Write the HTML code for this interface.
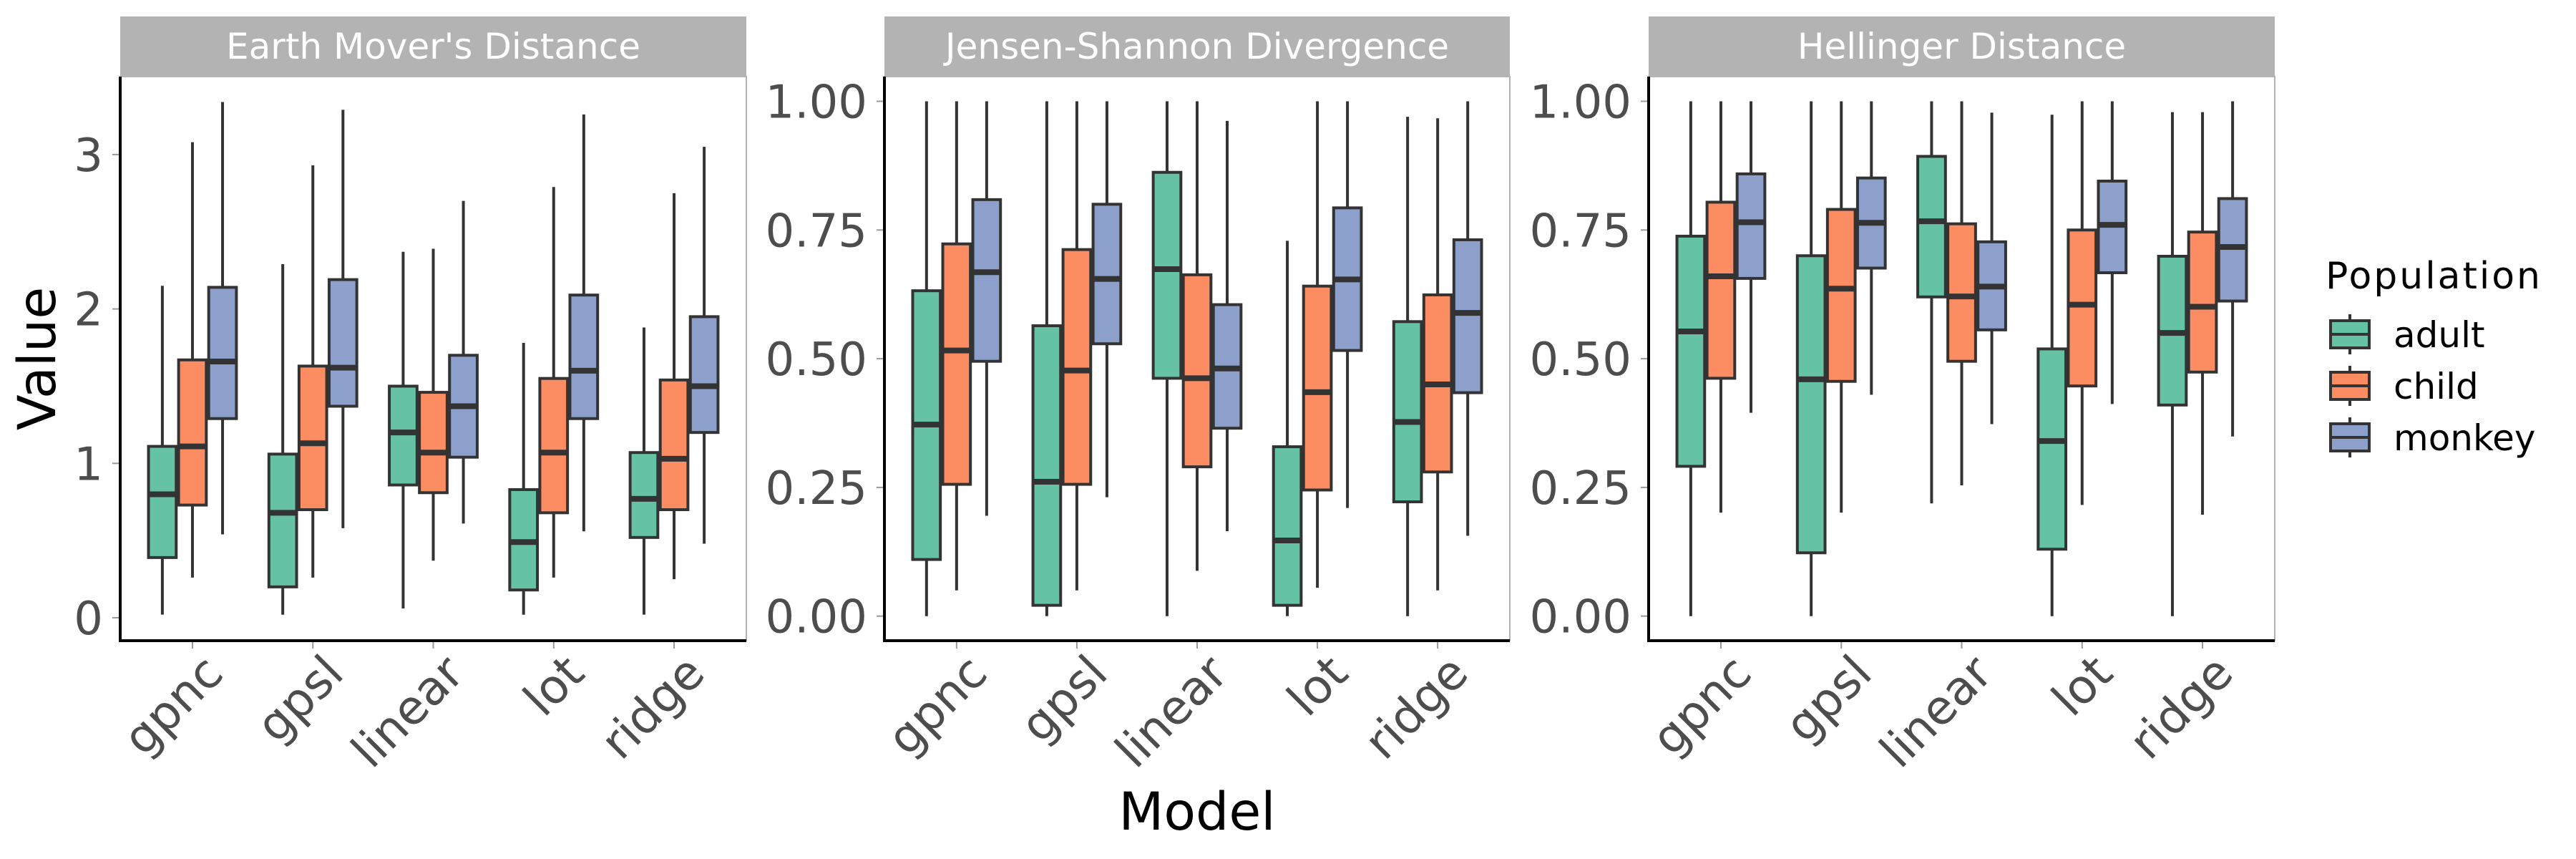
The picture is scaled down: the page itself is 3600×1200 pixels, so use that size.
<!DOCTYPE html>
<html><head><meta charset="utf-8"><style>
html,body{margin:0;padding:0;background:#fff;}
svg{display:block;font-family:"DejaVu Sans","Liberation Sans",sans-serif;}
</style></head><body>
<svg id="chart" width="3600" height="1200" viewBox="0 0 3600 1200" xmlns="http://www.w3.org/2000/svg">
<text x="1673" y="1159" font-size="73" text-anchor="middle" fill="#000">Model</text>
<text x="0" y="0" font-size="73" text-anchor="middle" fill="#000" transform="translate(77,501) rotate(-90)">Value</text>
<g id="legend">
<text x="3250" y="403" font-size="52" textLength="300" fill="#000">Population</text>
</g>
</svg>
<script>
const categories = ["gpnc","gpsl","linear","lot","ridge"];
const groups = ["adult","child","monkey"];
const colors = ["#66c2a5","#fc8d62","#8da0cb"];
const panelTitles = ["Earth Mover's Distance","Jensen-Shannon Divergence","Hellinger Distance"];
const emdTicks = [0,1,2,3];
const emdTickLabels = ["0","1","2","3"];
const unitTicks = [0,0.25,0.5,0.75,1];
const unitTickLabels = ["0.00","0.25","0.50","0.75","1.00"];
// [min, q1, median, q3, max] per category
const emdAdult = [[0.02,0.39,0.80,1.11,2.15],[0.02,0.20,0.68,1.06,2.29],[0.06,0.86,1.20,1.50,2.37],[0.02,0.18,0.49,0.83,1.78],[0.02,0.52,0.77,1.07,1.88]];
const emdChild = [[0.26,0.73,1.11,1.67,3.08],[0.26,0.70,1.13,1.63,2.93],[0.37,0.81,1.07,1.46,2.39],[0.26,0.68,1.07,1.55,2.79],[0.25,0.70,1.03,1.54,2.75]];
const emdMonkey = [[0.54,1.29,1.66,2.14,3.34],[0.58,1.37,1.62,2.19,3.29],[0.61,1.04,1.37,1.70,2.70],[0.56,1.29,1.60,2.09,3.26],[0.48,1.20,1.50,1.95,3.05]];
const jsdAdult = [[0,0.110,0.372,0.632,1],[0,0.021,0.261,0.564,1],[0,0.462,0.674,0.862,1],[0,0.021,0.147,0.329,0.729],[0,0.222,0.377,0.572,0.970]];
const jsdChild = [[0.05,0.256,0.516,0.723,1],[0.05,0.256,0.477,0.712,1],[0.088,0.29,0.462,0.663,1],[0.055,0.245,0.435,0.641,1],[0.05,0.28,0.45,0.624,0.967]];
const jsdMonkey = [[0.195,0.495,0.668,0.809,1],[0.231,0.529,0.655,0.80,1],[0.165,0.365,0.481,0.605,0.962],[0.21,0.516,0.654,0.793,1],[0.156,0.434,0.589,0.731,1]];
const helAdult = [[0,0.291,0.553,0.738,1],[0,0.123,0.46,0.70,1],[0.219,0.62,0.767,0.893,1],[0,0.13,0.34,0.519,0.974],[0,0.41,0.55,0.699,0.979]];
const helChild = [[0.201,0.462,0.66,0.804,1],[0.201,0.456,0.636,0.79,1],[0.254,0.495,0.621,0.762,1],[0.216,0.447,0.605,0.75,1],[0.197,0.474,0.601,0.746,0.979]];
const helMonkey = [[0.395,0.656,0.765,0.859,1],[0.43,0.676,0.764,0.851,1],[0.373,0.556,0.64,0.727,0.978],[0.412,0.667,0.76,0.845,1],[0.349,0.612,0.717,0.811,1]];

const NS = "http://www.w3.org/2000/svg";
const svg = document.getElementById('chart');
function mk(tag, attrs, parent){ const e=document.createElementNS(NS,tag); for(const k in attrs) e.setAttribute(k,attrs[k]); (parent||svg).appendChild(e); return e; }

const panels = [
  {x0:168,x1:1043,y0:107,y1:895,vAt0:863,pxPerUnit:215.7,ticks:emdTicks,labels:emdTickLabels,data:[emdAdult,emdChild,emdMonkey],key:"emd"},
  {x0:1236,x1:2110,y0:107,y1:895,vAt0:860.7,pxPerUnit:719.2,ticks:unitTicks,labels:unitTickLabels,data:[jsdAdult,jsdChild,jsdMonkey],key:"jsd"},
  {x0:2304,x1:3179,y0:107,y1:895,vAt0:860.7,pxPerUnit:719.2,ticks:unitTicks,labels:unitTickLabels,data:[helAdult,helChild,helMonkey],key:"hellinger"}
];

panels.forEach((p,pi)=>{
  const g = mk('g',{});
  
  
  const yScale = v => p.vAt0 - v*p.pxPerUnit;
  const step = (p.x1-p.x0)/(categories.length+0.2);
  const xScale = i => p.x0 + step*(0.6+i);
  const strip = mk('rect',{x:p.x0,y:23,width:p.x1-p.x0,height:84,fill:'#b3b3b3'},g);
  
  
  const st = mk('text',{x:(p.x0+p.x1)/2,y:82,'font-size':50,fill:'#fff','text-anchor':'middle'},g);
  st.textContent = panelTitles[pi];
  
  
  mk('rect',{x:p.x0,y:p.y0,width:p.x1-p.x0,height:p.y1-p.y0,fill:'none',stroke:'#b3b3b3','stroke-width':2},g);
  p.ticks.forEach((t,ti)=>{
    const y = yScale(t);
    mk('line',{x1:p.x0-11,x2:p.x0,y1:y,y2:y,stroke:'#999','stroke-width':2},g);
    const tl = mk('text',{x:p.x0-24,y:y+23,'font-size':64,fill:'#4d4d4d','text-anchor':'end'},g);
    tl.textContent = p.labels[ti];
    
    
  });
  categories.forEach((c,ci)=>{
    const x = xScale(ci);
    mk('line',{x1:x,x2:x,y1:p.y1,y2:p.y1+11,stroke:'#999','stroke-width':2},g);
    const ax = x+46, ay = 944;
    const tl = mk('text',{x:ax,y:ay,'font-size':66,fill:'#4d4d4d','text-anchor':'end',transform:`rotate(-45 ${ax} ${ay})`},g);
    tl.textContent = c;
    
    
  });
  const dodge = step*0.75/3, bw = dodge*0.92;
  p.data.forEach((series,si)=>{
    series.forEach((s,ci)=>{
      const cx = xScale(ci) + (si-1)*dodge;
      const bg = mk('g',{},g);
      
      
      mk('line',{x1:cx,x2:cx,y1:yScale(s[4]),y2:yScale(s[3]),stroke:'#333','stroke-width':4},bg);
      mk('line',{x1:cx,x2:cx,y1:yScale(s[1]),y2:yScale(s[0]),stroke:'#333','stroke-width':4},bg);
      mk('rect',{x:cx-bw/2,y:yScale(s[3]),width:bw,height:yScale(s[1])-yScale(s[3]),fill:colors[si],stroke:'#333','stroke-width':4},bg);
      mk('line',{x1:cx-bw/2,x2:cx+bw/2,y1:yScale(s[2]),y2:yScale(s[2]),stroke:'#333','stroke-width':8},bg);
    });
  });
  mk('line',{x1:p.x0,x2:p.x0,y1:p.y0,y2:p.y1+2,stroke:'#000','stroke-width':4},g);
  mk('line',{x1:p.x0-2,x2:p.x1,y1:p.y1,y2:p.y1,stroke:'#000','stroke-width':4},g);
});

const legend = document.getElementById('legend');
const rowY = [467,539,611];
groups.forEach((gname,i)=>{
  const lg = mk('g',{},legend);
  
  
  const cy = rowY[i], cx = 3284;
  mk('line',{x1:cx,x2:cx,y1:cy-28,y2:cy+28,stroke:'#333','stroke-width':4},lg);
  mk('rect',{x:3257,y:cy-19,width:54,height:38,fill:colors[i],stroke:'#333','stroke-width':4},lg);
  mk('line',{x1:3257,x2:3311,y1:cy,y2:cy,stroke:'#333','stroke-width':4},lg);
  const t = mk('text',{x:3345,y:cy+18,'font-size':50,fill:'#000'},lg);
  t.textContent = gname;
});
</script>
</body></html>
